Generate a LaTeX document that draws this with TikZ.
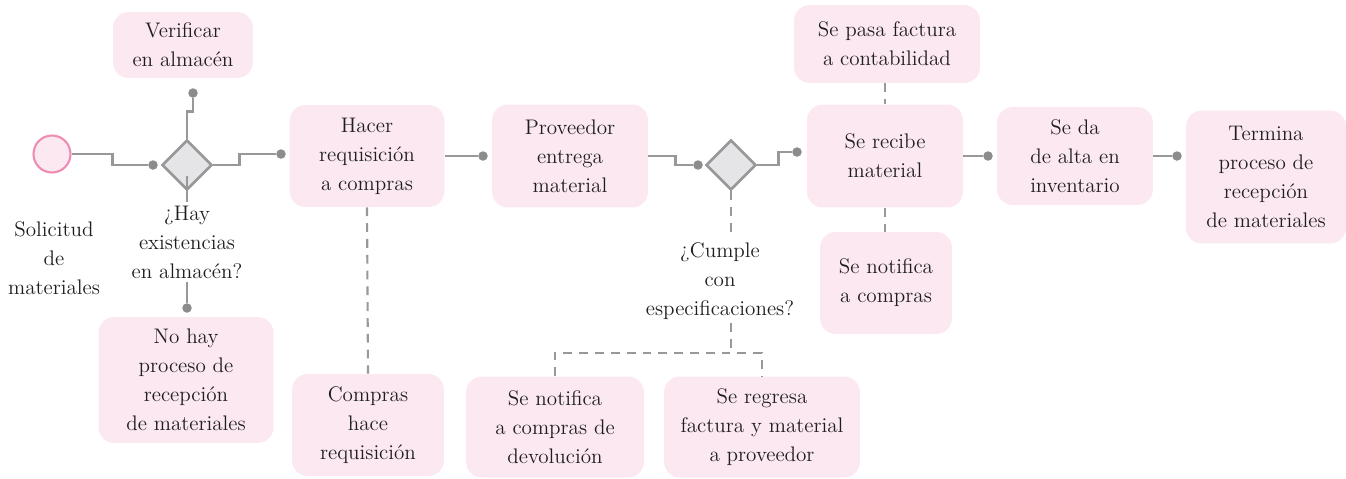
\documentclass[tikz,border=0pt]{standalone}
\usepackage{fontspec}
\usetikzlibrary{shapes.geometric, positioning, calc}
\definecolor{boxpink}{RGB}{252,232,241}
\definecolor{linegray}{RGB}{152,152,152}
\definecolor{dotgray}{RGB}{140,140,140}
\definecolor{diagray}{RGB}{229,229,231}
\definecolor{startpink}{RGB}{238,140,180}
\definecolor{textgray}{RGB}{30,30,30}
\tikzstyle{block} = [rectangle, fill=boxpink, text=textgray, align=center, rounded corners=9pt, inner sep=2pt, font=\fontsize{12}{16.5}\selectfont]
\tikzstyle{plaintext} = [align=center, text=textgray, inner sep=2pt, font=\fontsize{12}{16.5}\selectfont]
\tikzstyle{decision} = [diamond, aspect=1, draw=linegray, fill=diagray, line width=1.5pt, minimum width=1cm, minimum height=1cm, inner sep=0pt]
\tikzstyle{startstop} = [circle, draw=startpink, fill=boxpink, line width=1.2pt, minimum size=0.74cm]
\tikzstyle{joint} = [circle, fill=dotgray, inner sep=0pt, minimum size=0.19cm]
\tikzstyle{link} = [draw=linegray, line width=1.6pt]
\tikzstyle{dashline} = [draw=linegray, line width=1.2pt, dash pattern=on 5pt off 4pt]

\begin{document}
\begin{tikzpicture}[x=0.02cm, y=-0.02cm]
        \useasboundingbox (0,0) rectangle (1346,478);
        % Nodes
        \node [startstop] (start) at (52,154) {};
        \node [plaintext] (solicitud) at (54,258) {Solicitud\\de\\materiales};
        \node [decision] (stock) at (187,165) {};
        \node [plaintext] (stockq) at (187,242) {¿Hay\\existencias\\en almacén?};
        \node [block, minimum width=2.8cm, minimum height=1.32cm] (verif) at (183,45) {Verificar\\en almacén};
        \node [block, minimum width=3.5cm, minimum height=2.52cm] (nohay) at (186,380) {No hay\\proceso de\\recepción\\de materiales};
        \node [block, minimum width=3.1cm, minimum height=2.04cm] (hacer) at (367,156) {Hacer\\requisición\\a compras};
        \node [block, minimum width=3.04cm, minimum height=2.04cm] (compras) at (368,425) {Compras\\hace\\requisición};
        \node [block, minimum width=3.12cm, minimum height=2.06cm] (prov) at (570,156) {Proveedor\\entrega\\material};
        \node [decision] (check) at (731,165) {};
        \node [plaintext] (checkq) at (720,281) {¿Cumple\\con\\especificaciones?};
        \node [block, minimum width=3.56cm, minimum height=2.02cm] (devol) at (555,427) {Se notifica\\a compras de\\devolución};
        \node [block, minimum width=3.92cm, minimum height=2.02cm] (regresa) at (762,427) {Se regresa\\factura y material\\a proveedor};
        \node [block, minimum width=3.72cm, minimum height=1.56cm] (pasa) at (887,44) {Se pasa factura\\a contabilidad};
        \node [block, minimum width=3.12cm, minimum height=2.06cm] (recibe) at (885,156) {Se recibe\\material};
        \node [block, minimum width=2.64cm, minimum height=2.04cm] (notif) at (886,283) {Se notifica\\a compras};
        \node [block, minimum width=3.12cm, minimum height=1.96cm] (alta) at (1075,156) {Se da\\de alta en\\inventario};
        \node [block, minimum width=3.2cm, minimum height=2.66cm] (termina) at (1266,177) {Termina\\proceso de\\recepción\\de materiales};
        \coordinate (split) at (731,353);

        % Joints
        \node [joint] (pstock) at (153,165) {};
        \node [joint] (pverif) at (193,93) {};
        \node [joint] (phacer) at (281,154) {};
        \node [joint] (pnohay) at (187,308) {};
        \node [joint] (pprov) at (483,156) {};
        \node [joint] (pcheck) at (698,165) {};
        \node [joint] (precibe) at (797,152) {};
        \node [joint] (palta) at (988,156) {};
        \node [joint] (ptermina) at (1177,156) {};

        % Edges
        \path [link] (start.east) -| ($(start.east)!0.5!(pstock)$) |- (pstock);
        \path [link] (stock.north) -- ++(0,-27) -| (pverif);
        \path [link] (stock.east) -- ++(26,0) |- (phacer);
        \path [link] ($(stock.south)+(0,-15)$) -- (stockq.north);
        \path [link] (stockq.south) -- (pnohay);
        \path [link] (hacer.east) -- (pprov);
        \path [link] (prov.east) -- ++(27,0) |- (pcheck);
        \path [link] (check.east) -- ++(21,0) |- (precibe);
        \path [link] (recibe.east) -- (palta);
        \path [link] (alta.east) -- (ptermina);

        % Dashed edges
        \path [dashline] (hacer.south) -- (compras.north);
        \path [dashline] (recibe.north |- pasa.south) -- (recibe.north);
        \path [dashline] (recibe.south) -- (recibe.south |- notif.north);
        \path [dashline] (check.south) -- (check.south |- checkq.north);
        \path [dashline] (check.south |- checkq.south) -- (split);
        \path [dashline] (devol.north) |- (split) -| (regresa.north);
    \end{tikzpicture}
\end{document}
